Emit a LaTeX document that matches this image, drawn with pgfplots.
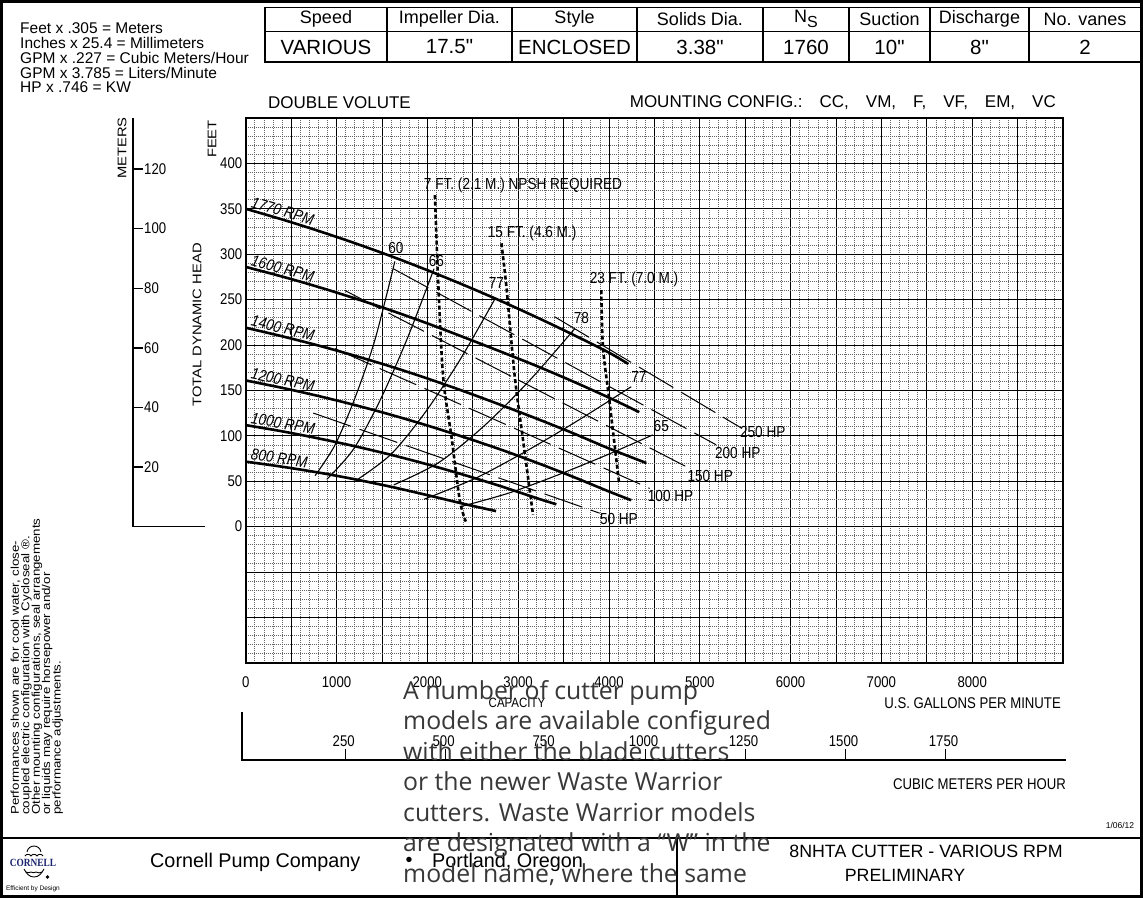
\documentclass[border=0pt]{standalone}
\usepackage{pgfplots}
\pgfplotsset{compat=1.18}
\usepackage{fontspec}
\setmainfont{Liberation Sans}[FakeStretch=0.85]
\newfontfamily\hfont{Liberation Sans}
\newfontfamily\rotfont{Liberation Sans}[FakeStretch=1.18]
\newfontfamily\osfont{Open Sans}
\newfontfamily\serifb{Liberation Serif}[FakeStretch=0.85]
\newcommand\fs[1]{\fontsize{#1}{#1}\selectfont}
\newcommand\dq{\XeTeXglyph\XeTeXcharglyph"22\relax}
\definecolor{navy}{RGB}{25,35,110}
\begin{document}
\begin{tikzpicture}
\begin{scope}[x=1pt,y=-1pt]
\useasboundingbox (0,0) rectangle (1143,898);
\fill[white] (0,0) rectangle (1143,898);
% outer frame
\draw[line width=2.5pt] (1.5,1.5) rectangle (1141.5,896.5);
% header table
\draw[line width=1.3pt] (265,7.5) rectangle (1141.5,62);
\draw[line width=1.3pt] (265,31.5)--(1141.5,31.5);
\foreach \x in {387,512,637,763,849,930,1029} \draw[line width=1.3pt] (\x,7.5)--(\x,62);
\begin{scope}[every node/.style={font=\hfont\fs{18}}]
\node at (326,19) {Speed};
\node at (449.5,19) {Impeller Dia.};
\node at (574.5,19) {Style};
\node at (700,19) {Solids Dia.};
\node at (806,19) {N\raisebox{-5pt}{\fs{16}S}};
\node at (889.5,19) {Suction};
\node at (979.5,19) {Discharge};
\node at (1085,19) {No. vanes};
\end{scope}
\begin{scope}[every node/.style={font=\hfont\fs{20.5}}]
\node at (326,47) {VARIOUS};
\node at (449.5,47) {17.5\dq};
\node at (574.5,47) {ENCLOSED};
\node at (700,47) {3.38\dq};
\node at (806,47) {1760};
\node at (889.5,47) {10\dq};
\node at (979.5,47) {8\dq};
\node at (1085,47) {2};
\end{scope}
% conversions
\begin{scope}[every node/.style={font=\hfont\fs{15.5}, anchor=west, inner sep=0pt}]
\node at (20,28) {Feet x .305 = Meters};
\node at (20,43) {Inches x 25.4 = Millimeters};
\node at (20,58) {GPM x .227 = Cubic Meters/Hour};
\node at (20,72.5) {GPM x 3.785 = Liters/Minute};
\node at (20,87) {HP x .746 = KW};
\end{scope}
\node[font=\hfont\fs{17}, anchor=west, inner sep=0pt] at (268,102.5) {DOUBLE VOLUTE};
\node[font=\hfont\fs{17}, anchor=east, inner sep=0pt] at (1056,102.5) {MOUNTING CONFIG.:\hspace{17pt}CC,\hspace{17pt}VM,\hspace{17pt}F,\hspace{17pt}VF,\hspace{17pt}EM,\hspace{17pt}VC};
% meters scale
\draw[line width=1.5pt] (133,118) -- (133,526.7) -- (205,526.7);
\foreach \y/\m in {467.1/20,407.5/40,347.9/60,288.3/80,228.6/100,169.0/120}{
  \draw[line width=1.3pt] (133,\y)--(143,\y);
  \node[font=\fs{15.5}, anchor=west, inner sep=1pt] at (143,\y) {\m};
}
\node[rotate=90, font=\rotfont\fs{12.5}] at (122,148) {METERS};
\node[rotate=90, font=\rotfont\fs{12.5}] at (212,139) {FEET};
\node[rotate=90, font=\rotfont\fs{12.5}] at (197,325) {TOTAL DYNAMIC HEAD};
% capacity scales
\node[font=\fs{15.5}, anchor=east, inner sep=0pt] at (1061,703) {U.S. GALLONS PER MINUTE};
\node[font=\fs{13.5}, inner sep=0pt] at (517,703) {CAPACITY};
\draw[line width=1.5pt] (242,712)--(242,760)--(1066,760);
\foreach \x/\m in {345.7/250,445.6/500,545.6/750,645.6/1000,745.5/1250,845.5/1500,945.5/1750}{
  \draw[line width=1.3pt] (\x,760)--(\x,749);
  \node[font=\fs{15.5}, inner sep=0pt] at (\x-2,741) {\m};
}
\node[font=\fs{15.5}, anchor=east, inner sep=0pt] at (1066,784) {CUBIC METERS PER HOUR};
\node[font=\hfont\fs{8.5}, inner sep=0pt] at (1120,825) {1/06/12};
% left note
\begin{scope}[every node/.style={rotate=90, anchor=base west, inner sep=0pt, font=\rotfont\fs{11.3}}]
\node at (19,815) {Performances shown are for cool water, close-};
\node at (29.4,815) {coupled electric configuration with Cycloseal \textregistered.};
\node at (39.8,815) {Other mounting configurations, seal arrangements};
\node at (50.2,815) {or liquids may require horsepower and/or};
\node at (60.6,815) {performance adjustments.};
\end{scope}
% bottom block
\draw[line width=2.5pt] (1.5,838)--(1141.5,838);
\draw[line width=1.5pt] (677,838)--(677,896.5);
\node[font=\hfont\fs{19.8}, anchor=west, inner sep=0pt] at (150,862) {Cornell Pump Company};
\node[font=\hfont\fs{19.8}, inner sep=0pt] at (409,862) {\textbullet};
\node[font=\hfont\fs{19.8}, anchor=west, inner sep=0pt] at (432,862) {Portland, Oregon};
\node[font=\hfont\fs{17.8}, inner sep=0pt] at (926,851) {8NHTA CUTTER - VARIOUS RPM};
\node[font=\hfont\fs{17.8}, inner sep=0pt] at (905,875) {PRELIMINARY};
% logo
\node[font=\serifb\bfseries\fs{11}, text=navy, inner sep=0pt] at (33,863) {CORNELL};
\draw[line width=0.9pt] (25,856) to[out=70,in=110] (31,856) to[out=70,in=110] (37,856) to[out=70,in=110] (43,856);
\draw[line width=0.9pt] (27,852) to[out=80,in=180] (34,846) to[out=0,in=100] (41,852);
\draw[line width=0.9pt] (24,869) to[out=-60,in=180] (34,877) to[out=0,in=-120] (44,869);
\draw[line width=0.9pt] (26,872) to[out=-30,in=210] (31,872) to[out=-30,in=210] (36,872) to[out=-30,in=210] (42,872);
\fill (47.5,877) circle (1.8);
\node[font=\hfont\fs{6.5}, inner sep=0pt] at (33,889) {Efficient by Design};
\end{scope}

\begin{axis}[
 at={(245.7pt,-662.7pt)}, anchor=south west,
 scale only axis, width=817.3pt, height=544.7pt,
 xmin=0, xmax=9000, ymin=-150, ymax=450,
 xtick={0,500,...,9000}, ytick={-150,-100,...,450},
 xticklabels={0,,1000,,2000,,3000,,4000,,5000,,6000,,7000,,8000,,},
 yticklabels={,,,0,50,100,150,200,250,300,350,400,},
 minor x tick num=4, minor y tick num=4,
 grid=both,
 major grid style={black, line width=0.7pt},
 minor grid style={black!60, line width=0.6pt, dash pattern=on 1pt off 1pt},
 major tick length=0pt, minor tick length=0pt,
 axis line style={line width=2pt},
 ticklabel style={font=\fs{15.5}},
 xticklabel style={anchor=base, yshift=-25pt},
 /pgf/number format/assume math mode=true,
 clip=false,
]
% head curves
\addplot[black, line width=2.6pt, smooth] coordinates {(0,350)(400,338.3)(800,325.7)(1200,312.2)(1600,297.8)(2000,282.4)(2400,266.1)(2800,248.9)(3200,230.7)(3600,211.6)(4000,191.6)(4214,179)};
\addplot[black, line width=2.6pt, smooth] coordinates {(0,286)(400,275.4)(800,263.9)(1200,251.4)(1600,238.1)(2000,223.8)(2400,208.6)(2800,193)(3200,177)(3600,160)(4000,142)(4334,126)};
\addplot[black, line width=2.6pt, smooth] coordinates {(0,219)(400,209.6)(800,199.4)(1200,188.2)(1600,176.2)(2000,163.1)(2400,149.1)(2800,134.3)(3200,119)(3600,103)(4000,86)(4411,70)};
\addplot[black, line width=2.6pt, smooth] coordinates {(0,160.9)(400,152.8)(800,143.8)(1200,133.9)(1600,123.1)(2000,111.3)(2400,98.6)(2800,85.1)(3200,70.5)(3600,55)(4000,38.6)(4246,29)};
\addplot[black, line width=2.6pt, smooth] coordinates {(0,111.7)(400,104.9)(800,97.1)(1200,88.5)(1600,79)(2000,68.5)(2400,57)(2800,44.7)(3200,31.4)(3421,24.5)};
\addplot[black, line width=2.6pt, smooth] coordinates {(0,71.5)(400,65.9)(800,59.5)(1200,52.1)(1600,43.8)(2000,34.6)(2400,25)(2757,17)};
% efficiency curves
\addplot[black, line width=1.1pt, smooth] coordinates {(764,56)(984,90)(1203,141.6)(1423,205.6)(1642,292)};
\addplot[black, line width=1.1pt, smooth] coordinates {(893,52)(1188,85.4)(1484,139.9)(1779,207)(2074,284)};
\addplot[black, line width=1.1pt, smooth] coordinates {(1225,51.4)(1603,79.9)(1982,126.5)(2360,183.7)(2738,249.5)};
\addplot[black, line width=1.1pt, smooth] coordinates {(1631,45.9)(2129,70.7)(2628,111.1)(3126,160.9)(3624,218)};
\addplot[black, line width=1.1pt, smooth] coordinates {(1963,30)(2534,53.4)(3104,83.9)(3675,117.8)(4245,154)};
\addplot[black, line width=1.1pt, smooth] coordinates {(2369,22)(2898,36.9)(3427,56.4)(3955,77.9)(4484,101)};
% horsepower lines
\addplot[black, line width=1pt, dash pattern=on 40pt off 9pt] coordinates {(3403,231)(5456,108.6)};
\addplot[black, line width=1pt, dash pattern=on 40pt off 9pt] coordinates {(1625,284)(5181,90)};
\addplot[black, line width=1pt, dash pattern=on 40pt off 9pt] coordinates {(1092,260)(4889,64)};
\addplot[black, line width=1pt, dash pattern=on 40pt off 9pt] coordinates {(982,196)(4449,42)};
\addplot[black, line width=1pt, dash pattern=on 40pt off 9pt] coordinates {(744,125)(3898,14.7)};
% NPSH required
\addplot[black, line width=2.6pt, dash pattern=on 4pt off 2.5pt, smooth] coordinates {(2084,365)(2119,271.5)(2174,165)(2266,99)(2357,29.4)(2424,5.5)};
\addplot[black, line width=2.6pt, dash pattern=on 4pt off 2.5pt, smooth] coordinates {(2816,312)(2871,264)(2963,165)(3054,95.4)(3164,12.9)};
\addplot[black, line width=2.6pt, dash pattern=on 4pt off 2.5pt, smooth] coordinates {(3916,260.5)(3934,198)(4008,136)(4110,49.5)};
% labels
\begin{scope}[every node/.style={font=\fs{16}, inner sep=0pt}]
\begin{scope}[every node/.append style={font=\fs{16}\itshape}]
\node[anchor=base west, rotate=-16.7] at (axis cs:50,352) {1770 RPM};
\node[anchor=base west, rotate=-15.3] at (axis cs:50,288) {1600 RPM};
\node[anchor=base west, rotate=-13.6] at (axis cs:50,221) {1400 RPM};
\node[anchor=base west, rotate=-11.9] at (axis cs:50,163) {1200 RPM};
\node[anchor=base west, rotate=-10.2] at (axis cs:50,114) {1000 RPM};
\node[anchor=base west, rotate=-8.4] at (axis cs:50,74) {800 RPM};
\end{scope}
\node at (axis cs:1654,306.5) {60};
\node at (axis cs:2101,292.8) {66};
\node at (axis cs:2761,267.9) {77};
\node at (axis cs:3696,229.4) {78};
\node at (axis cs:4330,164.4) {77};
\node at (axis cs:4576,111.2) {65};
\node at (axis cs:5694,104.6) {250 HP};
\node at (axis cs:5419,81.5) {200 HP};
\node at (axis cs:5115,55.8) {150 HP};
\node at (axis cs:4679,33.8) {100 HP};
\node at (axis cs:4110,8.5) {50 HP};
\node[anchor=west] at (axis cs:1961,376) {7 FT. (2.1 M.) NPSH REQUIRED};
\node[anchor=west] at (axis cs:2665,323) {15 FT. (4.6 M.)};
\node[anchor=west] at (axis cs:3787,272.4) {23 FT. (7.0 M.)};
\end{scope}
\end{axis}

\begin{scope}[x=1pt,y=-1pt]
\begin{scope}[every node/.style={font=\osfont\fs{24.8}, text=black!78, anchor=base west, inner sep=0pt}]
\node at (403,699) {A number of cutter pump};
\node at (403,729.5) {models are available configured};
\node at (403,760) {with either the blade cutters};
\node at (403,790.5) {or the newer Waste Warrior};
\node at (403,821) {cutters. Waste Warrior models};
\node at (403,851.5) {are designated with a “W” in the};
\node at (403,882) {model name, where the same};
\end{scope}
\end{scope}
\end{tikzpicture}
\end{document}
